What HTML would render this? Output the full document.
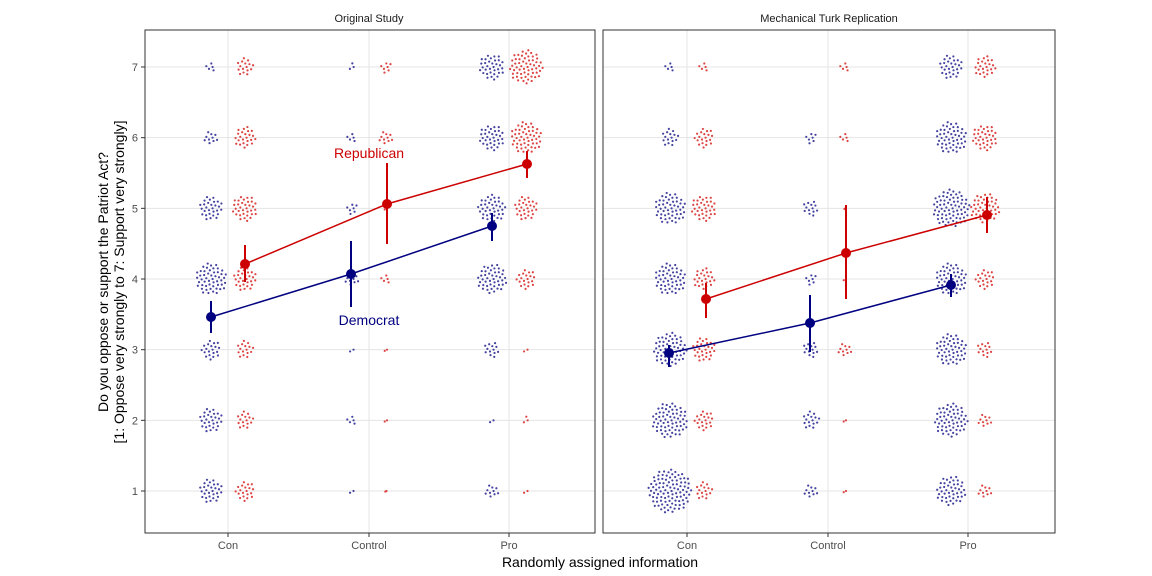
<!DOCTYPE html><html><head><meta charset="utf-8"><style>body{margin:0;background:#fff}svg{display:block}text{font-family:"Liberation Sans",sans-serif}</style></head><body>
<svg id="s" width="1152" height="576" xmlns="http://www.w3.org/2000/svg">
<rect width="1152" height="576" fill="#fff"/>
<g id="grid"></g><g id="dots"></g><g id="lines"></g>
<rect x="145" y="30" width="450" height="503" fill="none" stroke="#333" stroke-width="1"/>
<rect x="603" y="30" width="452" height="503" fill="none" stroke="#333" stroke-width="1"/>
<text x="369" y="22" font-size="11" text-anchor="middle" fill="#1a1a1a">Original Study</text>
<text x="829" y="22" font-size="11" text-anchor="middle" fill="#1a1a1a">Mechanical Turk Replication</text>
<g font-size="11" fill="#4d4d4d" text-anchor="end" id="yl"></g>
<g font-size="11" fill="#4d4d4d" text-anchor="middle">
<text x="228" y="549">Con</text><text x="369" y="549">Control</text><text x="509" y="549">Pro</text>
<text x="687" y="549">Con</text><text x="828" y="549">Control</text><text x="968" y="549">Pro</text></g>
<text x="600" y="567" font-size="14" text-anchor="middle" fill="#000">Randomly assigned information</text>
<text transform="translate(108,282) rotate(-90)" font-size="14" text-anchor="middle" fill="#000">Do you oppose or support the Patriot Act?</text>
<text transform="translate(124,282) rotate(-90)" font-size="14" text-anchor="middle" fill="#000">[1: Oppose very strongly to 7: Support very strongly]</text>
<text x="369" y="158" font-size="14" text-anchor="middle" fill="#cc0000">Republican</text>
<text x="369" y="325" font-size="14" text-anchor="middle" fill="#000080">Democrat</text>
</svg>
<script>
var NS="http://www.w3.org/2000/svg";
function el(p,t,a){var e=document.createElementNS(NS,t);for(var k in a)e.setAttribute(k,a[k]);document.getElementById(p).appendChild(e);return e;}
function Y(v){return 491-(v-1)*70.667;}
var panels=[[145,595,[228,369,509]],[603,1055,[687,828,968]]];
panels.forEach(function(p){
 for(var v=1;v<=7;v++){el("grid","line",{x1:p[0],x2:p[1],y1:Y(v),y2:Y(v),stroke:"#e5e5e5","stroke-width":1});}
 p[2].forEach(function(x){el("grid","line",{x1:x,x2:x,y1:30,y2:533,stroke:"#e5e5e5","stroke-width":1});el("grid","line",{x1:x,x2:x,y1:533,y2:537,stroke:"#333"});});
});
for(var v=1;v<=7;v++){var t=el("yl","text",{x:138,y:Y(v)+4});t.textContent=v;el("grid","line",{x1:141,x2:145,y1:Y(v),y2:Y(v),stroke:"#333"});}
var R=[
 [[12,12,10,16,12,7,5],[10,9,9,12,13,11,9]],
 [[3,5,3,7,6,5,4],[1,2,2,5,2,7,6]],
 [[7,3,8,15,14,13,13],[3,4,3,10,12,16,17]],
 [[22,18,17,16,16,9,5],[9,10,12,11,13,10,5]],
 [[7,9,8,6,8,6,0],[2,2,7,2,1,5,5]],
 [[15,17,16,16,19,16,12],[7,7,8,10,15,13,11]]
];
var cx=[228,369,509,687,828,968];
var ga=Math.PI*(3-Math.sqrt(5));
R.forEach(function(g,i){
 g.forEach(function(rs,s){
  var x0=cx[i]+(s?17:-17),col=s?"#dd4444":"#4444a0";
  rs.forEach(function(r,k){
   if(!r)return;var n=Math.max(2,Math.round(r*r/5));var y0=Y(k+1);
   for(var j=0;j<n;j++){var rr=r*Math.sqrt((j+0.5)/n),a=j*ga;
    el("dots","circle",{cx:x0+rr*Math.cos(a),cy:y0+rr*Math.sin(a),r:1.1,fill:col});}
  });
 });
});
function series(pts,err,col){
 el("lines","polyline",{points:pts.map(function(p){return p.join(",")}).join(" "),fill:"none",stroke:col,"stroke-width":1.5});
 pts.forEach(function(p,i){el("lines","line",{x1:p[0],x2:p[0],y1:err[i][0],y2:err[i][1],stroke:col,"stroke-width":2});
  el("lines","circle",{cx:p[0],cy:p[1],r:5,fill:col});});
}
series([[211,317],[351,274],[492,226]],[[301,333],[241,307],[213,241]],"#000080");
series([[245,264],[387,204],[527,164]],[[245,282],[163,244],[151,178]],"#cc0000");
series([[669,353],[810,323],[951,285]],[[345,367],[295,352],[274,297]],"#000080");
series([[706,299],[846,253],[987,215]],[[283,318],[205,299],[197,233]],"#cc0000");
</script>
</body></html>
